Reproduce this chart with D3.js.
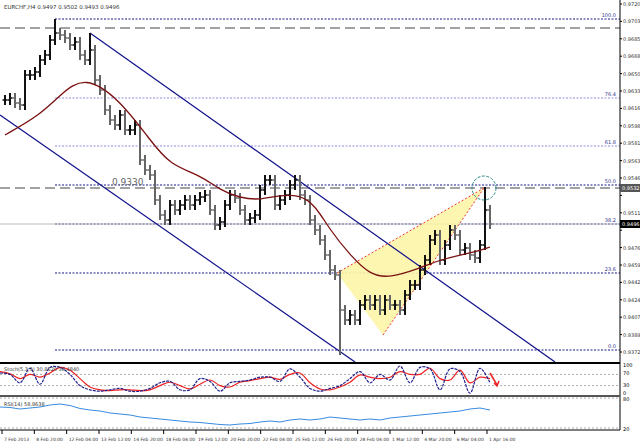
<!DOCTYPE html>
<html><head><meta charset="utf-8">
<script src="https://cdn.jsdelivr.net/npm/d3@7"></script>
<style>body{margin:0;background:#fff}svg{display:block;font-family:"DejaVu Sans",sans-serif}</style>
</head><body><svg id="c" width="640" height="445"></svg>
<script>
// closes, one bar every 5px
var closes=[.9620,.9622,.9617,.9615,.9645,.9645,.9648,.9660,.9665,.9680,.9687,.9685,.9682,.9675,.9678,.9665,.9660,.9670,.9640,.9630,
.9610,.9600,.9595,.9605,.9590,.9590,.9595,.9560,.9550,.9545,.9520,.9505,.9500,.9515,.9510,.9515,.9520,.9515,.9520,.9523,
.9525,.9510,.9495,.9498,.9515,.9525,.9522,.9510,.9500,.9502,.9505,.9530,.9540,.9540,.9515,.9520,.9525,.9535,.9540,.9525,
.9520,.9500,.9490,.9480,.9465,.9450,.9445,.9410,.9400,.9405,.9400,.9415,.9420,.9415,.9420,.9410,.9420,.9415,.9415,.9410,
.9425,.9435,.9435,.9450,.9460,.9480,.9485,.9460,.9475,.9490,.9485,.9470,.9472,.9465,.9462,.9475,.9510,.9496];
var spikeIdx=[10,17,67,96], spikeVal=[.9701,.9687,.9365,.9533];
var maIdx=[0,7,11,16,23,29,33,39,43,47,51,55,59,62,65,69,73,77,83,87,91,94,97];
var maVal=[.9585,.9605,.9625,.9645,.9620,.9580,.9555,.9545,.9530,.9522,.9520,.9525,.9525,.9515,.9490,.9465,.9445,.9442,.9452,.9460,.9465,.9468,.9473];
var fibLevels=[.9701,.9622,.9574,.9535,.9496,.9447,.9370];
var fibNames=["100.0","76.4","61.8","50.0","38.2","23.6","0.0"];
var dashLevels=[.9692,.9532];
var stochK=[75,70,40,92,35,95,95,70,30,15,10,15,20,10,10,20,40,45,15,15,55,45,10,40,45,50,60,60,45,90,60,20,10,20,30,55,80,40,70,50,100,40,95,90,15,90,80,3,92,40];
var stochD=[80,72,55,70,60,75,95,85,55,25,15,12,15,15,12,15,30,42,30,18,35,50,30,25,42,48,55,60,52,70,75,40,18,15,25,42,68,60,55,60,80,70,70,92,55,50,85,40,60,55];
var rsi=[66,65,62,64,66,70,72,69,63,60,58,54,52,50,46,44,42,40,38,36,35,33,31,30,32,33,36,38,36,40,42,40,42,46,44,42,40,42,40,44,46,48,50,52,54,56,58,62,64,60];
var dates=["7 Feb 2013","8 Feb 20:00","12 Feb 04:00","13 Feb 12:00","14 Feb 20:00","18 Feb 04:00","19 Feb 12:00","20 Feb 20:00","22 Feb 04:00","25 Feb 12:00","26 Feb 20:00","28 Feb 04:00","1 Mar 12:00","4 Mar 20:00","6 Mar 04:00","1 Apr 16:00"];

var svg=d3.select("#c");
var W=620;
var x=d3.scaleLinear().domain([0,97]).range([5,490]);
var y=d3.scaleLinear().domain([0.9720,0.9357]).range([0,363]);

// fib dotted lines
fibLevels.forEach(function(v,i){
  svg.append("line").attr("x1",55).attr("x2",W).attr("y1",y(v)).attr("y2",y(v))
    .attr("stroke",i==1||i==2?"#8c8cd8":"#1a1a8c").attr("stroke-width",1).attr("stroke-dasharray","2,1.5");
  svg.append("text").attr("x",W-4).attr("y",y(v)-2).attr("text-anchor","end").attr("font-size",5).attr("fill","#33338c").text(fibNames[i]);
});
svg.append("line").attr("x1",0).attr("x2",W).attr("y1",y(.9496)).attr("y2",y(.9496)).attr("stroke","#bbb").attr("stroke-width",1);
dashLevels.forEach(function(v){
  svg.append("line").attr("x1",0).attr("x2",W).attr("y1",y(v)).attr("y2",y(v)).attr("stroke","#444").attr("stroke-dasharray","10,5");
});
svg.append("text").attr("x",112).attr("y",y(.9532)-3).attr("font-size",9).attr("fill","#666").text("0.9330");

// wedge
var wedge=[[66.4,.9447],[75.6,.9385],[95.8,.9532]];
svg.append("polygon").attr("points",wedge.map(function(p){return x(p[0])+","+y(p[1]);}).join(" ")).attr("fill","#fdf5a8").attr("opacity",0.9);
[[0,2],[1,2]].forEach(function(s){
  svg.append("line").attr("x1",x(wedge[s[0]][0])).attr("y1",y(wedge[s[0]][1])).attr("x2",x(wedge[s[1]][0])).attr("y2",y(wedge[s[1]][1]))
    .attr("stroke","#e33").attr("stroke-dasharray","2,2");
});

// channel
[[[17,.9687],[110,.9358]],[[-1,.9605],[70,.9358]]].forEach(function(l){
  svg.append("line").attr("x1",x(l[0][0])).attr("y1",y(l[0][1])).attr("x2",x(l[1][0])).attr("y2",y(l[1][1])).attr("stroke","#10108c").attr("stroke-width",1.2);
});

// bars
closes.forEach(function(c,i){
  var o=i?closes[i-1]:c, hi=Math.max(o,c)+0.0005, lo=Math.min(o,c)-0.0005;
  var k=spikeIdx.indexOf(i); if(k>=0){ if(spikeVal[k]>hi) hi=spikeVal[k]; else lo=spikeVal[k]; }
  var cx=x(i), col=c>=o?"#111":"#666";
  svg.append("line").attr("x1",cx).attr("x2",cx).attr("y1",y(hi)).attr("y2",y(lo)).attr("stroke",col).attr("stroke-width",2);
  svg.append("line").attr("x1",cx-2.5).attr("x2",cx).attr("y1",y(o)).attr("y2",y(o)).attr("stroke",col).attr("stroke-width",1.5);
  svg.append("line").attr("x1",cx).attr("x2",cx+2.5).attr("y1",y(c)).attr("y2",y(c)).attr("stroke",col).attr("stroke-width",1.5);
});
// moving average
svg.append("path").datum(maIdx.map(function(d,i){return [d,maVal[i]];}))
  .attr("d",d3.line().x(function(d){return x(d[0]);}).y(function(d){return y(d[1]);}).curve(d3.curveBasis))
  .attr("fill","none").attr("stroke","#7a1010").attr("stroke-width",1.3);
svg.append("circle").attr("cx",x(95.8)).attr("cy",y(.9532)).attr("r",12).attr("fill","none").attr("stroke","#2a8a8a").attr("stroke-dasharray","3,1.5");

svg.append("text").attr("x",4).attr("y",9).attr("font-size",5.5).attr("fill","#333").text("EURCHF,H4  0.9497 0.9502 0.9493 0.9496");

// price axis
var boxes=[[.9532,"#555"],[.9496,"#000"]];
svg.append("line").attr("x1",W).attr("x2",W).attr("y1",0).attr("y2",430).attr("stroke","#000");
for(var k=0;k<21;k++){
  var v=0.9720-k*0.00174, yy=y(v)+4;
  if(yy>360) break;
  svg.append("line").attr("x1",W).attr("x2",W+2).attr("y1",yy).attr("y2",yy).attr("stroke","#000");
  var near=boxes.some(function(b){return Math.abs(y(b[0])-yy)<8;});
  if(!near) svg.append("text").attr("x",W+3).attr("y",yy+2).attr("font-size",5).attr("fill","#333").text(d3.format(".4f")(v));
}
boxes.forEach(function(b){
  svg.append("rect").attr("x",W).attr("y",y(b[0])-4).attr("width",20).attr("height",8).attr("fill",b[1]);
  svg.append("text").attr("x",W+2).attr("y",y(b[0])+2).attr("font-size",5).attr("fill","#fff").text(d3.format(".4f")(b[0]));
});

// stochastic
var sy=d3.scaleLinear().domain([0,100]).range([394,366]);
var ix=d3.scaleLinear().domain([0,49]).range([0,490]);
svg.append("line").attr("x1",0).attr("x2",W).attr("y1",363).attr("y2",363).attr("stroke","#000").attr("stroke-width",2);
svg.append("line").attr("x1",0).attr("x2",W).attr("y1",396).attr("y2",396).attr("stroke","#555").attr("stroke-width",2);
[70,30].forEach(function(v){svg.append("line").attr("x1",0).attr("x2",W).attr("y1",sy(v)).attr("y2",sy(v)).attr("stroke","#aaa").attr("stroke-dasharray","2,2");});
[[100,"100"],[70,"70"],[30,"30"],[0,"0"]].forEach(function(t){svg.append("text").attr("x",W+3).attr("y",sy(t[0])+1).attr("font-size",5).text(t[1]);});
var ln=d3.line().x(function(d,i){return ix(i);}).curve(d3.curveCatmullRom);
svg.append("path").attr("d",ln.y(function(d){return sy(d);})(stochD)).attr("fill","none").attr("stroke","#e22").attr("stroke-width",1.2);
svg.append("path").attr("d",ln.y(function(d){return sy(d);})(stochK)).attr("fill","none").attr("stroke","#22228c").attr("stroke-width",1.2).attr("stroke-dasharray","3,1");
svg.append("path").attr("d","M490,373 L497,385").attr("stroke","#e22").attr("stroke-width",1.5);
svg.append("path").attr("d","M494,383 L497,386 L499,381").attr("fill","none").attr("stroke","#e22").attr("stroke-width",1.5);
svg.append("text").attr("x",4).attr("y",371).attr("font-size",5).attr("fill","#333").text("Stoch(5,3,3) 30.8520 38.4840");

// RSI
var ry=d3.scaleLinear().domain([20,80]).range([430,400]);
[80,20].forEach(function(v){svg.append("line").attr("x1",0).attr("x2",W).attr("y1",ry(v)-2).attr("y2",ry(v)-2).attr("stroke","#aaa").attr("stroke-dasharray","2,2");});
[[80,"80"],[20,"20"]].forEach(function(t){svg.append("text").attr("x",W+3).attr("y",ry(t[0])+1).attr("font-size",5).text(t[1]);});
svg.append("path").attr("d",d3.line().x(function(d,i){return ix(i);}).y(function(d){return ry(d);})(rsi)).attr("fill","none").attr("stroke","#3a8ae0").attr("stroke-width",1);
svg.append("text").attr("x",4).attr("y",406).attr("font-size",5).attr("fill","#333").text("RSI(14) 58.8638");
svg.append("line").attr("x1",0).attr("x2",W).attr("y1",430).attr("y2",430).attr("stroke","#000");

// dates
var dx=d3.scaleLinear().domain([0,15]).range([2,487]);
dates.forEach(function(t,i){
  svg.append("line").attr("x1",dx(i)).attr("x2",dx(i)).attr("y1",430).attr("y2",434).attr("stroke","#000");
  svg.append("text").attr("x",dx(i)+2).attr("y",441).attr("font-size",4.5).attr("fill","#333").text(t);
});
</script></body></html>
